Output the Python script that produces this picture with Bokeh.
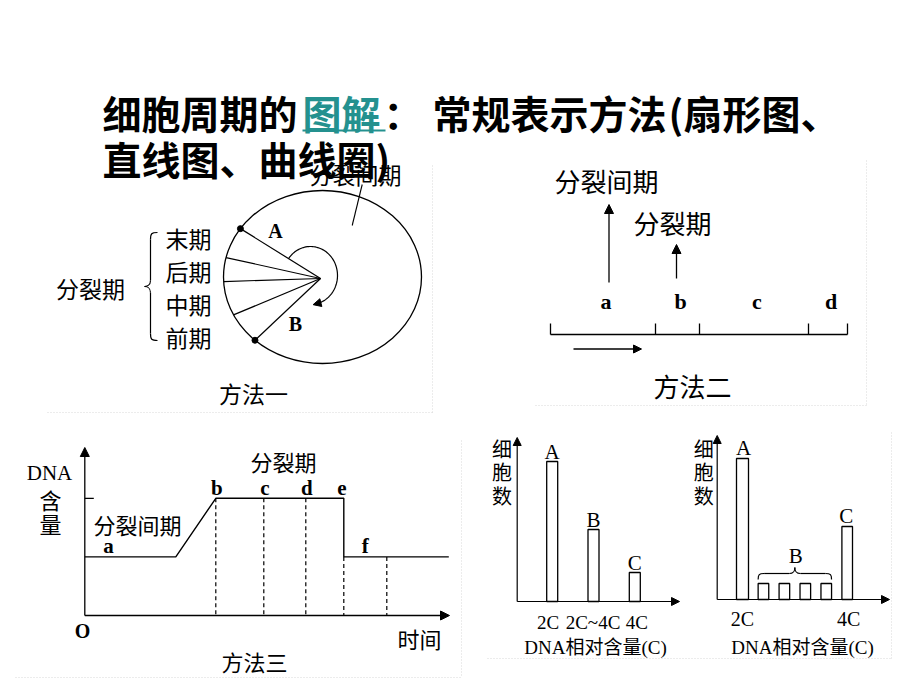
import numpy as np
from bokeh.plotting import figure
from bokeh.models import Range1d, Arrow, NormalHead
from bokeh.core.properties import value
from bokeh.embed import file_html
from bokeh.resources import INLINE

# ---------------- data ----------------
TITLE_PARTS = ["细胞周期的", "图解", "：", "常规表示方法", "(", "扇形图、"]
TITLE_LINE2 = "直线图、曲线圈)"

# method 1: fan diagram (sectors along the ellipse, bottom -> top)
FAN_PHASES = ["前期", "中期", "后期", "末期"]
FAN_PHASE_DEG = [21, 23, 16, 21]
FAN_START_DEG = 133
FAN_LIST = ["末期", "后期", "中期", "前期"]

# method 2: straight line
LINE_SEGMENTS = ["a", "b", "c", "d"]
LINE_SEG_LEN = [10.5, 4.4, 10.9, 3.9]
LINE_ARROW_TEXT = ["分裂间期", "分裂期"]

# method 3: DNA content curve
DNA_TIME = [0, 9.1, 13.1, 25.9, 25.9, 36.4]
DNA_LEVEL = [2, 2, 4, 4, 2, 2]
DNA_MARKS = ["b", "c", "d", "e"]
DNA_MARK_T = [13.1, 17.9, 22.1, 25.9]
DNA_F_END = 30.2

# method 4: histograms
H1_CATS = ["2C", "2C~4C", "4C"]
H1_NAMES = ["A", "B", "C"]
H1_COUNTS = [140, 72, 29]
H2_DNA = [2, 2.4, 2.8, 3.2, 3.6, 4]
H2_COUNTS = [141, 16, 16, 16, 16, 73]

CJK = "Noto Sans CJK SC"
SERIF = "Liberation Serif"
MIX = "'Liberation Serif', 'Noto Sans CJK SC'"
TEAL = "#24918f"

p = figure(width=920, height=690, x_range=Range1d(0, 920), y_range=Range1d(690, 0),
           output_backend="svg", toolbar_location=None, x_axis_type=None, y_axis_type=None,
           min_border=0, min_border_left=0, min_border_right=0, min_border_top=0,
           min_border_bottom=0)
p.grid.visible = False
p.outline_line_color = None
p.background_fill_color = "white"
p.border_fill_color = "white"


def T(x, y, s, size, font=CJK, style="normal", align="center", color="black"):
    p.text(x=[x], y=[y], text=[s], text_font=value(font), text_font_size=f"{size}px",
           text_font_style=style, text_align=align, text_baseline="middle", text_color=color)


def arrow(x0, y0, x1, y1, size=8, lw=1.3):
    p.add_layout(Arrow(end=NormalHead(size=size, fill_color="black", line_color="black"),
                       x_start=x0, y_start=y0, x_end=x1, y_end=y1,
                       line_color="black", line_width=lw))


def dotted(xs, ys):
    p.line(xs, ys, line_color="#d9d9d9", line_width=1, line_dash="1 2")

# ---------------- faint panel borders ----------------
dotted([47, 432], [412, 412]); dotted([432, 432], [165, 412])
dotted([535, 866], [405, 405]); dotted([866, 866], [160, 405])
dotted([15, 461], [677, 677]); dotted([461, 461], [440, 677])
dotted([487, 891], [658, 658]); dotted([891, 891], [432, 658])

# ---------------- title ----------------
tx = [102, 302, 383, 432, 668, 683]
for x, s in zip(tx, TITLE_PARTS):
    T(x, 111, s, 39, style="bold", align="left", color=TEAL if s == "图解" else "black")
p.line([302, 385], [130, 130], line_color=TEAL, line_width=2)
T(102, 157, TITLE_LINE2, 39, style="bold", align="left")

# ---------------- method 1: fan ----------------
ecx, ecy, erx, ery = 322, 276.5, 99, 86.5
fcx, fcy = 320, 278
p.ellipse(x=[ecx], y=[ecy], width=[2 * erx], height=[2 * ery], fill_color=None,
          line_color="black", line_width=1.3)
bounds = np.radians(FAN_START_DEG + np.concatenate([[0], np.cumsum(FAN_PHASE_DEG)]))
bx = ecx + erx * np.cos(bounds)
by = ecy + ery * np.sin(bounds)
p.segment(x0=[fcx] * len(bx), y0=[fcy] * len(by), x1=bx, y1=by, line_color="black", line_width=1.2)
p.scatter(x=[bx[0], bx[-1]], y=[by[0], by[-1]], size=6, color="black")
# cycling arrow inside
th = np.radians(np.linspace(215, 438, 80))
ax_, ay_ = 310 + 27 * np.cos(th), 275 + 29 * np.sin(th)
p.line(ax_, ay_, line_color="black", line_width=1.2)
arrow(ax_[-2], ay_[-2], ax_[-1] - 3, ay_[-1] + 0.8, size=8, lw=1.2)
T(275, 230, "A", 20, font=SERIF, style="bold")
T(295, 323, "B", 20, font=SERIF, style="bold")
T(355, 173, "分裂间期", 23)
p.line([361.7, 351.7], [184, 225], line_color="black", line_width=1.1)
for i, s in enumerate(FAN_LIST):
    T(188, 237 + 33.3 * i, s, 23)
T(90, 287, "分裂期", 23)
# brace
bz = dict(x0=[157, 150, 144, 150], y0=[232, 280, 286, 333],
          x1=[150, 144, 150, 157], y1=[239, 286, 292, 340],
          cx0=[151, 150, 146, 150], cy0=[232, 285, 286, 339],
          cx1=[150, 146, 150, 151], cy1=[233, 286, 287, 340])
p.bezier(line_color="black", line_width=1.2, **bz)
p.segment(x0=[150, 150], y0=[239, 292], x1=[150, 150], y1=[280, 333], line_color="black", line_width=1.2)
T(253, 392, "方法一", 23)

# ---------------- method 2: straight line ----------------
X2 = lambda u: 550 + 10 * u
edges = np.concatenate([[0], np.cumsum(LINE_SEG_LEN)])
p.line([X2(edges[0]), X2(edges[-1])], [334, 334], line_color="black", line_width=1.3)
p.segment(x0=[X2(e) for e in edges], y0=[334] * len(edges), x1=[X2(e) for e in edges],
          y1=[323] * len(edges), line_color="black", line_width=1.3)
mids = [(edges[i] + edges[i + 1]) / 2 for i in range(len(LINE_SEGMENTS))]
for m, s in zip(mids, LINE_SEGMENTS):
    T(X2(m) + 3, 301, s, 22, font=SERIF, style="bold")
arrow(X2(mids[0]) + 6, 282, X2(mids[0]) + 6, 204, size=9)
arrow(X2(mids[1]) - 1, 278, X2(mids[1]) - 1, 244, size=9)
T(606, 180, LINE_ARROW_TEXT[0], 26)
T(672, 222, LINE_ARROW_TEXT[1], 26)
arrow(573, 348.5, 641, 348.5, size=8)
T(692, 385, "方法二", 26)

# ---------------- method 3: DNA curve ----------------
X3 = lambda t: 84.3 + 10 * t
Y3 = lambda c: 615 - 29.3 * c
arrow(X3(0), Y3(0), X3(0), 447, size=9)
arrow(X3(0), Y3(0), 449, Y3(0), size=9)
p.line([X3(0), X3(0) + 9], [Y3(4), Y3(4)], line_color="black", line_width=1.3)
p.line([X3(t) for t in DNA_TIME], [Y3(c) for c in DNA_LEVEL], line_color="black", line_width=1.4)
dx = DNA_MARK_T + [DNA_F_END]
dtop = [4, 4, 4, 2, 2]
p.segment(x0=[X3(t) for t in dx], y0=[Y3(c) for c in dtop], x1=[X3(t) for t in dx],
          y1=[Y3(0)] * len(dx), line_color="black", line_width=1.2, line_dash="4 3")
for t, s in zip(DNA_MARK_T, DNA_MARKS):
    T(X3(t) + (1 if s != "e" else -2), 487, s, 21, font=SERIF, style="bold")
T(108, 545, "a", 21, font=SERIF, style="bold")
T(X3((DNA_MARK_T[-1] + DNA_F_END) / 2), 545, "f", 21, font=SERIF, style="bold")
T(283, 460, "分裂期", 22)
T(137, 523, "分裂间期", 22)
T(49, 472, "DNA", 21, font=SERIF)
T(50, 498, "含", 22)
T(50, 522, "量", 22)
T(82, 630, "O", 20, font=SERIF, style="bold")
T(419, 637, "时间", 22)
T(254, 660, "方法三", 22)

# ---------------- method 4a: histogram ----------------
X4a = lambda k: 510.4 + 41.3 * k
Y4a = lambda c: 601 - c
arrow(516.7, Y4a(0), 516.7, 437, size=8, lw=1.2)
arrow(516.7, Y4a(0), 679, Y4a(0), size=8, lw=1.2)
for k, (cat, nm, c) in enumerate(zip(H1_CATS, H1_NAMES, H1_COUNTS), start=1):
    xc = X4a(k)
    p.quad(left=[xc - 5.5], right=[xc + 5.5], top=[Y4a(c)], bottom=[Y4a(0)],
           fill_color="white", line_color="black", line_width=1.3)
    T(xc, Y4a(c) - 10, nm, 21, font=SERIF)
    T(xc + (-4 if k == 1 else (-0.5 if k == 2 else 2)), 622, cat, 19, font=SERIF)
T(595, 647, "DNA相对含量(C)", 19, font=MIX)
for i, s in enumerate("细胞数"):
    T(501.5, 448 + 23.3 * i, s, 20)

# ---------------- method 4b: histogram ----------------
X4b = lambda d: 742 + 52.35 * (d - 2)
Y4b = lambda c: 599 - c
arrow(716.7, Y4b(0), 716.7, 435, size=8, lw=1.2)
arrow(716.7, Y4b(0), 889, Y4b(0), size=8, lw=1.2)
w = [6, 5.3, 5.3, 5.3, 5.3, 5.3]
for d, c, hw in zip(H2_DNA, H2_COUNTS, w):
    p.quad(left=[X4b(d) - hw], right=[X4b(d) + hw], top=[Y4b(c)], bottom=[Y4b(0)],
           fill_color="white", line_color="black", line_width=1.3)
T(X4b(H2_DNA[0]) + 1, Y4b(H2_COUNTS[0]) - 11, "A", 21, font=SERIF)
T(X4b(H2_DNA[-1]) - 1, Y4b(H2_COUNTS[-1]) - 11, "C", 21, font=SERIF)
bl = X4b(H2_DNA[1]) - 5.3
br = X4b(H2_DNA[-2]) + 5.3
bm = (bl + br) / 2
ybase, ytop = Y4b(H2_COUNTS[1]) - 4, Y4b(H2_COUNTS[1]) - 10
bz2 = dict(x0=[bl, bm - 5.5, bm, br - 6], y0=[ybase, ytop, ytop - 6, ytop],
           x1=[bl + 6, bm, bm + 5.5, br], y1=[ytop, ytop - 6, ytop, ybase],
           cx0=[bl, bm - 1, bm, br - 1], cy0=[ytop + 1, ytop, ytop - 2, ytop],
           cx1=[bl + 1, bm, bm + 1, br], cy1=[ytop, ytop - 2, ytop, ytop + 1])
p.bezier(line_color="black", line_width=1.2, **bz2)
p.segment(x0=[bl + 6, bm + 5.5], y0=[ytop, ytop], x1=[bm - 5.5, br - 6], y1=[ytop, ytop],
          line_color="black", line_width=1.2)
T(bm + 1, 555, "B", 21, font=SERIF)
T(X4b(2), 618.5, "2C", 20, font=SERIF)
T(X4b(4) + 1.5, 618.5, "4C", 20, font=SERIF)
T(802, 647, "DNA相对含量(C)", 19, font=MIX)
for i, s in enumerate("细胞数"):
    T(703.3, 448 + 23.3 * i, s, 20)

open("out.html", "w").write(file_html(p, INLINE))
